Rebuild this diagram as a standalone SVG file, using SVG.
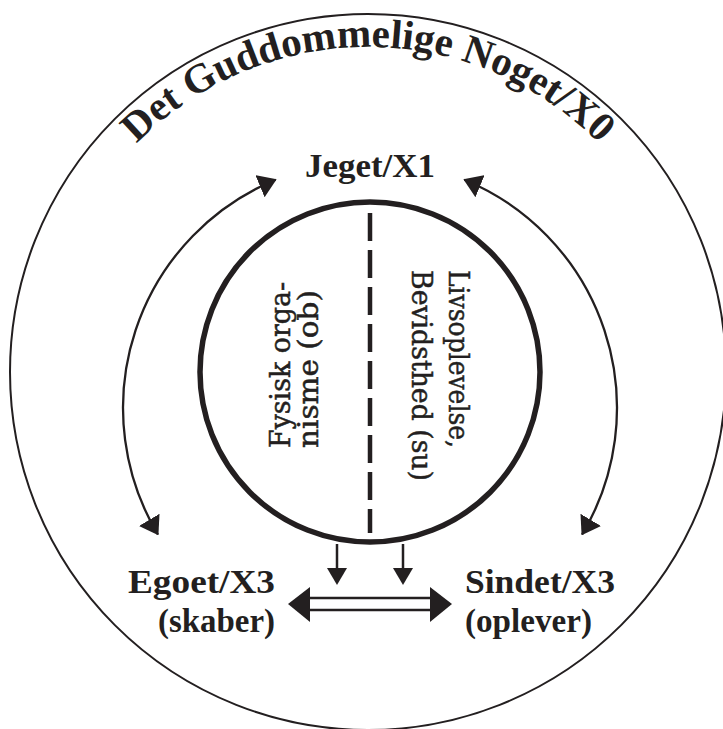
<svg xmlns="http://www.w3.org/2000/svg" width="723" height="729" viewBox="0 0 723 729">
<defs>
<style>
.outer{fill:none;stroke:#231f20;stroke-width:2}
.inner{fill:none;stroke:#231f20;stroke-width:5.5}
.dash{stroke:#231f20;stroke-width:4.5;stroke-dasharray:28 9}
.arc{fill:none;stroke:#231f20;stroke-width:2.3}
.ln{stroke:#231f20;stroke-width:2.5;fill:none}
.head{fill:#231f20}
.lbl{font-family:"Liberation Serif","Times New Roman",serif;font-weight:bold;fill:#231f20}
.vt{font-family:"DejaVu Serif","Liberation Serif",serif;font-size:27px;fill:#231f20;stroke:#231f20;stroke-width:0.5}
</style>
<marker id="ah" viewBox="0 0 18 24" refX="17" refY="12" markerWidth="18" markerHeight="24" markerUnits="userSpaceOnUse" orient="auto-start-reverse"><path d="M0,0 L18,12 L0,24 Z" fill="#231f20"/></marker>
<path id="titlePath" d="M 43 372 A 325 325 0 0 1 693 372" fill="none"/>
</defs>
<rect width="723" height="729" fill="#ffffff"/>
<g id="outer-x0">
<circle class="outer" cx="368" cy="372" r="358"/>
<text class="lbl" font-size="41"><textPath href="#titlePath" startOffset="50%" text-anchor="middle">Det Guddommelige Noget/X0</textPath></text>
</g>
<g id="inner-circle">
<circle class="inner" cx="370" cy="372" r="170"/>
<line class="dash" x1="370" y1="213" x2="370" y2="533"/>
<text class="vt" transform="translate(290,448) rotate(-90)" textLength="166" lengthAdjust="spacingAndGlyphs">Fysisk orga-</text>
<text class="vt" transform="translate(318,448) rotate(-90)" textLength="158" lengthAdjust="spacingAndGlyphs">nisme (ob)</text>
<text class="vt" transform="translate(449,270) rotate(90)" textLength="178" lengthAdjust="spacingAndGlyphs">Livsoplevelse,</text>
<text class="vt" transform="translate(412,270) rotate(90)" textLength="211" lengthAdjust="spacingAndGlyphs">Bevidsthed (su)</text>
</g>
<g id="jeget">
<text class="lbl" x="370" y="177" font-size="34" text-anchor="middle" textLength="130" lengthAdjust="spacingAndGlyphs">Jeget/X1</text>
</g>
<g id="egoet">
<text class="lbl" x="275" y="593" font-size="33" text-anchor="end" textLength="147" lengthAdjust="spacingAndGlyphs">Egoet/X3</text>
<text class="lbl" x="275" y="632" font-size="33" text-anchor="end" textLength="117" lengthAdjust="spacingAndGlyphs">(skaber)</text>
</g>
<g id="sindet">
<text class="lbl" x="465" y="593" font-size="33" textLength="150" lengthAdjust="spacingAndGlyphs">Sindet/X3</text>
<text class="lbl" x="465" y="632" font-size="33" textLength="127" lengthAdjust="spacingAndGlyphs">(oplever)</text>
</g>
<g id="connectors">
<path class="arc" d="M 275.7 179.7 A 247 247 0 0 0 157.9 534.5" marker-start="url(#ah)" marker-end="url(#ah)"/>
<path class="arc" d="M 464.3 179.7 A 247 247 0 0 1 582.1 534.5" marker-start="url(#ah)" marker-end="url(#ah)"/>
<line class="ln" x1="337" y1="544" x2="337" y2="570"/>
<polygon class="head" points="327,568 347,568 337,585"/>
<line class="ln" x1="403" y1="544" x2="403" y2="570"/>
<polygon class="head" points="393,568 413,568 403,585"/>
<line class="ln" x1="308" y1="598" x2="432" y2="598"/>
<line class="ln" x1="308" y1="610" x2="432" y2="610"/>
<polygon class="head" points="288,604 310,587 310,622"/>
<polygon class="head" points="452,604 430,587 430,622"/>
</g>
</svg>
